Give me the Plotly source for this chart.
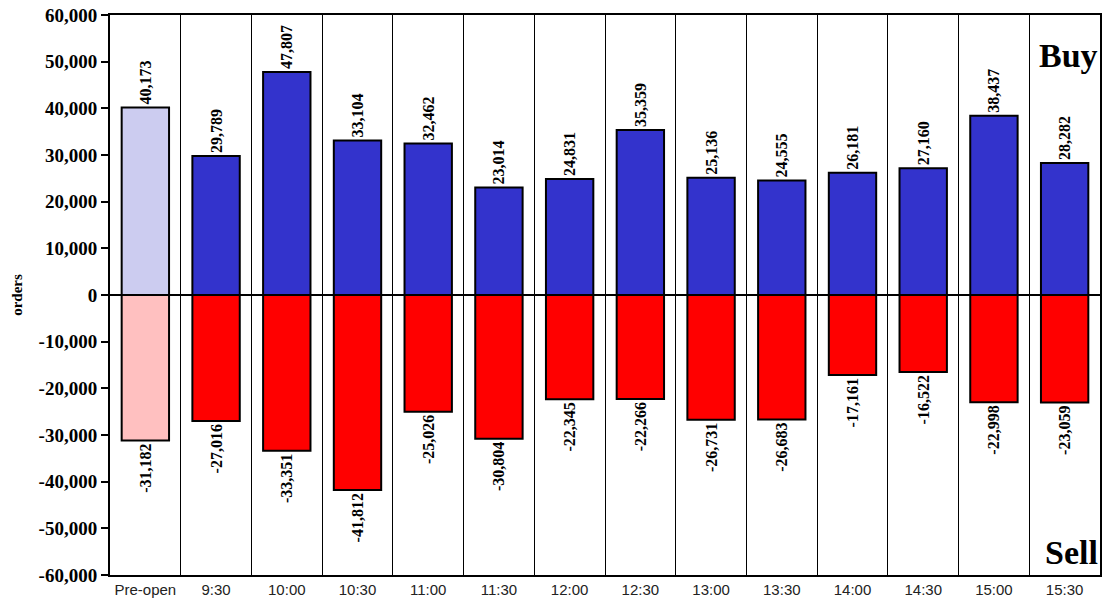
import plotly.graph_objects as go

# Order flow per half-hour session
periods = ["Pre-open", "9:30", "10:00", "10:30", "11:00", "11:30", "12:00",
           "12:30", "13:00", "13:30", "14:00", "14:30", "15:00", "15:30"]
buy_orders = [40173, 29789, 47807, 33104, 32462, 23014, 24831,
              35359, 25136, 24555, 26181, 27160, 38437, 28282]
sell_orders = [-31182, -27016, -33351, -41812, -25026, -30804, -22345,
               -22266, -26731, -26683, -17161, -16522, -22998, -23059]
y_ticks = list(range(-60000, 60001, 10000))

BUY_BLUE, BUY_LIGHT = "#3333CC", "#CCCCF0"
SELL_RED, SELL_LIGHT = "#FF0000", "#FFC0C0"

buy_colors = [BUY_LIGHT if p == "Pre-open" else BUY_BLUE for p in periods]
sell_colors = [SELL_LIGHT if p == "Pre-open" else SELL_RED for p in periods]

label_font = dict(family="Liberation Serif", size=16, color="black", weight="bold")

fig = go.Figure()
fig.add_trace(go.Bar(
    x=periods, y=buy_orders, name="Buy",
    marker=dict(color=buy_colors, line=dict(color="black", width=2)),
    text=[f"{v:,}" for v in buy_orders], textposition="outside",
    textangle=-90, textfont=label_font, constraintext="none", cliponaxis=False,
))
fig.add_trace(go.Bar(
    x=periods, y=sell_orders, name="Sell",
    marker=dict(color=sell_colors, line=dict(color="black", width=2)),
    text=[f"{v:,}" for v in sell_orders], textposition="outside",
    textangle=-90, textfont=label_font, constraintext="none", cliponaxis=False,
))

fig.update_layout(
    width=1107, height=603,
    margin=dict(l=110, r=5, t=12, b=28),
    barmode="overlay", bargap=0.33,
    plot_bgcolor="white", paper_bgcolor="white",
    showlegend=False,
    xaxis=dict(
        type="category", tickson="boundaries", ticks="",
        showgrid=True, gridcolor="black", gridwidth=1,
        showline=True, linecolor="black", linewidth=2, mirror=True,
        tickfont=dict(family="Liberation Sans", size=15, color="#222222"),
        range=[-0.5, len(periods) - 0.5],
    ),
    yaxis=dict(
        range=[-60000, 60000], tickvals=y_ticks,
        ticktext=[f"{v:,}" for v in y_ticks],
        ticks="outside", ticklen=7, tickwidth=2, tickcolor="black",
        showgrid=False,
        zeroline=True, zerolinecolor="black", zerolinewidth=2,
        showline=True, linecolor="black", linewidth=2, mirror=True,
        tickfont=dict(family="Liberation Serif", size=19, color="black",
                      weight="bold"),
        title=dict(text="orders", standoff=12,
                   font=dict(family="Liberation Serif", size=15, color="black",
                             weight="bold")),
    ),
    font=dict(family="Liberation Serif", color="black"),
)

fig.add_annotation(x=1, y=1, xref="paper", yref="paper", xanchor="right",
                   yanchor="top", yshift=-20, showarrow=False,
                   text="<b>Buy</b>",
                   font=dict(family="Liberation Serif", size=34, color="black"))
fig.add_annotation(x=1, y=0, xref="paper", yref="paper", xanchor="right",
                   yanchor="bottom", yshift=2, showarrow=False,
                   text="<b>Sell</b>",
                   font=dict(family="Liberation Serif", size=34, color="black"))

fig.write_html("out.html")
